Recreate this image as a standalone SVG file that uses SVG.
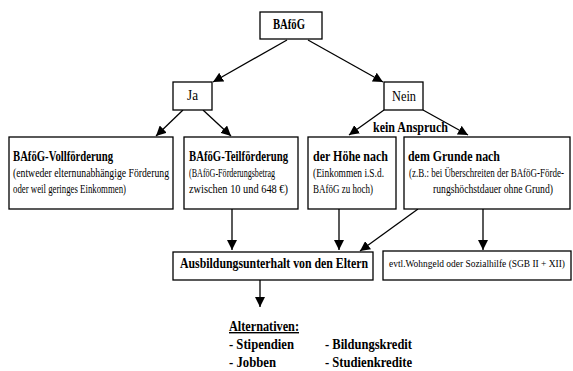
<svg xmlns="http://www.w3.org/2000/svg" width="573" height="371" viewBox="0 0 573 371">
<style>
rect{fill:#fff;stroke:#000;stroke-width:1.3}
text{font-family:"Liberation Serif","DejaVu Serif",serif;fill:#000}
.b{font-weight:bold;font-size:14px}
.r{font-size:14px}
.s{font-size:11.5px}
.xs{font-size:10.5px}
#connectors line{stroke:#000;stroke-width:1.3;marker-end:url(#ah)}
</style>
<defs>
<marker id="ah" markerWidth="10" markerHeight="10" viewBox="0 0 10 10" refX="10" refY="5" orient="auto" markerUnits="userSpaceOnUse">
<path d="M0,0 L10,5 L0,10 Z" fill="#000"/>
</marker>
</defs>
<rect x="0" y="0" width="573" height="371" style="fill:#fff;stroke:none"/>
<g id="connectors">
<line x1="287" y1="40" x2="213" y2="82"/>
<line x1="308" y1="40" x2="383" y2="82"/>
<line x1="183" y1="110" x2="156" y2="136"/>
<line x1="203" y1="110" x2="231" y2="136"/>
<line x1="384" y1="110" x2="349" y2="135"/>
<line x1="423" y1="110" x2="468" y2="135"/>
<line x1="232" y1="209" x2="232" y2="250"/>
<line x1="339" y1="209" x2="339" y2="250"/>
<line x1="418" y1="209" x2="360" y2="251"/>
<line x1="483" y1="209" x2="483" y2="250"/>
<line x1="260" y1="280" x2="260" y2="307"/>
</g>
<g id="bafoeg">
<rect x="260" y="12" width="62" height="27"/>
<text class="b" x="273" y="29" textLength="32" lengthAdjust="spacingAndGlyphs">BAföG</text>
</g>
<g id="ja">
<rect x="173" y="82" width="39" height="28"/>
<text class="r" x="187" y="100" textLength="11" lengthAdjust="spacingAndGlyphs">Ja</text>
</g>
<g id="nein">
<rect x="384" y="82" width="39" height="28"/>
<text class="r" x="392" y="101" textLength="24" lengthAdjust="spacingAndGlyphs">Nein</text>
</g>
<g id="kein-anspruch">
<text class="b" x="373" y="132" textLength="75" lengthAdjust="spacingAndGlyphs">kein Anspruch</text>
</g>
<g id="vollfoerderung">
<rect x="9" y="137" width="164" height="72"/>
<text class="b" x="13" y="161" textLength="100" lengthAdjust="spacingAndGlyphs">BAföG-Vollförderung</text>
<text class="s" x="13" y="177" textLength="156" lengthAdjust="spacingAndGlyphs">(entweder elternunabhängige Förderung</text>
<text class="s" x="13" y="193" textLength="113" lengthAdjust="spacingAndGlyphs">oder weil geringes Einkommen)</text>
</g>
<g id="teilfoerderung">
<rect x="184" y="137" width="114" height="72"/>
<text class="b" x="189" y="161" textLength="99" lengthAdjust="spacingAndGlyphs">BAföG-Teilförderung</text>
<text class="s" x="189" y="177" textLength="86" lengthAdjust="spacingAndGlyphs">(BAföG-Förderungsbetrag</text>
<text class="s" x="189" y="193" textLength="99" lengthAdjust="spacingAndGlyphs">zwischen 10 und 648 €)</text>
</g>
<g id="hoehe">
<rect x="308" y="137" width="88" height="72"/>
<text class="b" x="313" y="161" textLength="75" lengthAdjust="spacingAndGlyphs">der Höhe nach</text>
<text class="s" x="313" y="177" textLength="71" lengthAdjust="spacingAndGlyphs">(Einkommen i.S.d.</text>
<text class="s" x="313" y="193" textLength="60" lengthAdjust="spacingAndGlyphs">BAföG zu hoch)</text>
</g>
<g id="grunde">
<rect x="404" y="137" width="166" height="72"/>
<text class="b" x="408" y="161" textLength="92" lengthAdjust="spacingAndGlyphs">dem Grunde nach</text>
<text class="s" transform="scale(0.8,1)" x="511.25" y="177" textLength="193.75" lengthAdjust="spacingAndGlyphs">(z.B.: bei Überschreiten der BAföG-Förde-</text>
<text class="s" transform="scale(0.8,1)" x="541.25" y="193" textLength="150" lengthAdjust="spacingAndGlyphs">rungshöchstdauer ohne Grund)</text>
</g>
<g id="ausbildungsunterhalt">
<rect x="173" y="252" width="200" height="28"/>
<text class="b" x="180" y="268" textLength="188" lengthAdjust="spacingAndGlyphs">Ausbildungsunterhalt von den Eltern</text>
</g>
<g id="wohngeld">
<rect x="383" y="251" width="188" height="29"/>
<text class="xs" transform="scale(0.8,1)" x="486.25" y="267" textLength="220" lengthAdjust="spacingAndGlyphs">evtl.Wohngeld oder Sozialhilfe (SGB II + XII)</text>
</g>
<g id="alternativen">
<text class="b" x="229" y="331" textLength="70" lengthAdjust="spacingAndGlyphs" text-decoration="underline">Alternativen:</text>
<text class="b" x="229" y="349" textLength="65" lengthAdjust="spacingAndGlyphs">- Stipendien</text>
<text class="b" x="229" y="367" textLength="47" lengthAdjust="spacingAndGlyphs">- Jobben</text>
<text class="b" x="325" y="349" textLength="87" lengthAdjust="spacingAndGlyphs">- Bildungskredit</text>
<text class="b" x="325" y="367" textLength="87" lengthAdjust="spacingAndGlyphs">- Studienkredite</text>
</g>
</svg>
